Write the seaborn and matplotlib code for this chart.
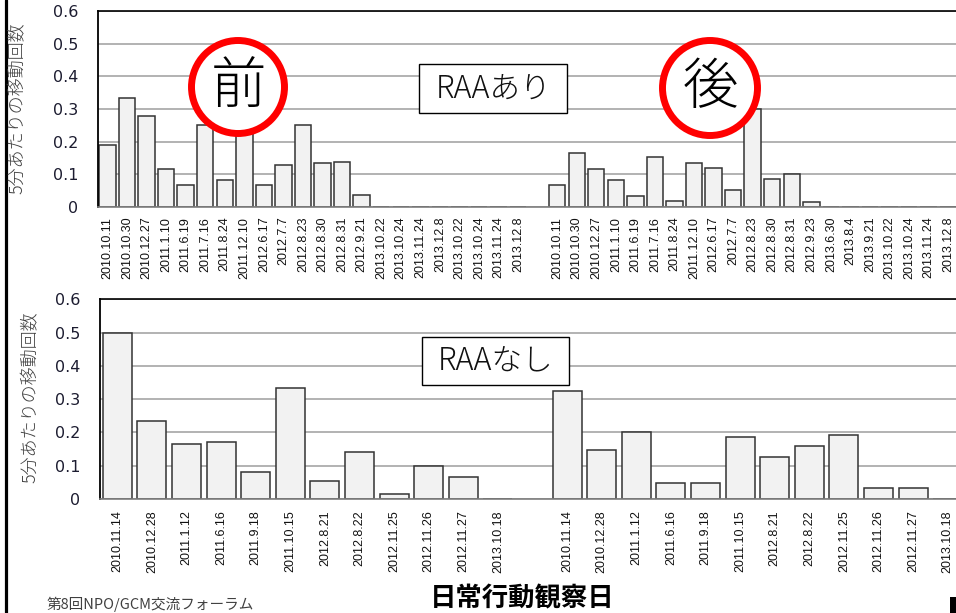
import pandas as pd
import matplotlib
matplotlib.use("Agg")
import matplotlib.pyplot as plt
import seaborn as sns
from matplotlib.patches import Ellipse, Rectangle
from matplotlib.lines import Line2D

# 上段: RAAあり (前 / 後)
ari_dates_pre = ["2010.10.11", "2010.10.30", "2010.12.27", "2011.1.10", "2011.6.19",
                 "2011.7.16", "2011.8.24", "2011.12.10", "2012.6.17", "2012.7.7",
                 "2012.8.23", "2012.8.30", "2012.8.31", "2012.9.21", "2013.10.22",
                 "2013.10.24", "2013.11.24", "2013.12.8", "2013.10.22", "2013.10.24",
                 "2013.11.24", "2013.12.8"]
ari_vals_pre = [0.19, 0.333, 0.28, 0.116, 0.067, 0.25, 0.083, 0.25, 0.067, 0.13,
                0.25, 0.136, 0.139, 0.037, 0, 0, 0, 0, 0, 0, 0, 0]
ari_dates_post = ["2010.10.11", "2010.10.30", "2010.12.27", "2011.1.10", "2011.6.19",
                  "2011.7.16", "2011.8.24", "2011.12.10", "2012.6.17", "2012.7.7",
                  "2012.8.23", "2012.8.30", "2012.8.31", "2012.9.23", "2013.6.30",
                  "2013.8.4", "2013.9.21", "2013.10.22", "2013.10.24", "2013.11.24",
                  "2013.12.8"]
ari_vals_post = [0.067, 0.166, 0.116, 0.083, 0.034, 0.154, 0.018, 0.136, 0.12, 0.052,
                 0.3, 0.086, 0.1, 0.015, 0, 0, 0, 0, 0, 0, 0]

# 下段: RAAなし
nashi_dates = ["2010.11.14", "2010.12.28", "2011.1.12", "2011.6.16", "2011.9.18",
               "2011.10.15", "2012.8.21", "2012.8.22", "2012.11.25", "2012.11.26",
               "2012.11.27", "2013.10.18"]
nashi_vals_pre = [0.5, 0.233, 0.166, 0.172, 0.081, 0.333, 0.054, 0.142, 0.014, 0.1,
                  0.066, 0]
nashi_vals_post = [0.325, 0.148, 0.2, 0.047, 0.047, 0.185, 0.126, 0.16, 0.193, 0.032,
                   0.032, 0]

yticks = [0, 0.1, 0.2, 0.3, 0.4, 0.5, 0.6]
ytick_labels = ["0", "0.1", "0.2", "0.3", "0.4", "0.5", "0.6"]

sns.set_style("white")
plt.rcParams["font.family"] = ["Noto Sans CJK JP", "DejaVu Sans"]

W, H = 956, 613
fig = plt.figure(figsize=(W / 100, H / 100), dpi=100)


def fx(x):
    return x / W


def fy(y):
    return 1 - y / H


def panel(ax, dates_pre, vals_pre, dates_post, vals_post, xpad):
    keys_pre = [f"a{i}" for i in range(len(vals_pre))]
    keys_post = [f"b{i}" for i in range(len(vals_post))]
    order = keys_pre + ["gap"] + keys_post
    df = pd.DataFrame({"key": keys_pre + keys_post, "val": vals_pre + vals_post})
    sns.barplot(data=df, x="key", y="val", order=order, color="#f2f2f2",
                saturation=1, edgecolor="#333333", linewidth=1.1, width=0.84, ax=ax)
    ax.set_xlim(-0.5, len(order) - 0.5)
    ax.set_ylim(0, 0.6)
    ax.set_yticks(yticks)
    ax.set_yticklabels(ytick_labels, fontfamily="DejaVu Sans", fontsize=11.5,
                       color="#1c1c30")
    ax.set_xticks(range(len(order)))
    ax.set_xticklabels(dates_pre + [""] + dates_post, rotation=90, va="top",
                       ha="center", fontsize=9, fontfamily="Liberation Sans",
                       color="#111111")
    ax.tick_params(axis="both", length=0)
    ax.tick_params(axis="y", pad=14)
    ax.tick_params(axis="x", pad=xpad)
    ax.set_xlabel("")
    ax.set_ylabel("")
    ax.yaxis.grid(True, color="#a6a6a6", linewidth=1.2)
    ax.set_axisbelow(True)
    ax.spines["top"].set_color("black")
    ax.spines["top"].set_linewidth(1.2)
    ax.spines["left"].set_color("black")
    ax.spines["left"].set_linewidth(1.3)
    ax.spines["bottom"].set_color("#7f7f7f")
    ax.spines["bottom"].set_linewidth(1.2)
    ax.spines["right"].set_visible(False)


ax1 = fig.add_axes([fx(97.7), fy(207), (958 - 97.7) / W, 196 / H])
panel(ax1, ari_dates_pre, ari_vals_pre, ari_dates_post, ari_vals_post, 7)

ax2 = fig.add_axes([fx(100), fy(499), 865 / W, 199.7 / H])
panel(ax2, nashi_dates, nashi_vals_pre, nashi_dates, nashi_vals_post, 8)

# 縦軸ラベル
fig.text(fx(18), fy(108), "5分あたりの移動回数", rotation=90, ha="center",
         va="center", fontsize=13, fontweight="light", color="#404040")
fig.text(fx(31), fy(397), "5分あたりの移動回数", rotation=90, ha="center",
         va="center", fontsize=13, fontweight="light", color="#404040")

# RAAあり / RAAなし の枠
for (x0, y0, x1, y1, label) in [(419, 64, 567, 113, "RAAあり"),
                                (422, 337, 569, 385, "RAAなし")]:
    fig.add_artist(Rectangle((fx(x0), fy(y1)), (x1 - x0) / W, (y1 - y0) / H,
                             transform=fig.transFigure, fc="white", ec="black",
                             lw=1.0, zorder=2))
    fig.text(fx((x0 + x1) / 2), fy((y0 + y1) / 2), label, ha="center",
             va="center", fontsize=22, fontweight="light", color="#111111",
             zorder=3)

# 前 / 後 の赤丸
for (cx, cy, r, label) in [(238, 87, 46.5, "前"), (710, 88, 47.5, "後")]:
    fig.add_artist(Ellipse((fx(cx), fy(cy)), 2 * r / W, 2 * r / H,
                           transform=fig.transFigure, fc="white", ec="#ff0000",
                           lw=5, zorder=2))
    fig.text(fx(cx), fy(cy), label, ha="center", va="center", fontsize=40,
             fontweight="light", color="black", zorder=3)

fig.text(fx(522), fy(599), "日常行動観察日", ha="center", va="center",
         fontsize=19, fontweight="bold", color="black")
fig.text(fx(47), fy(604), "第8回NPO/GCM交流フォーラム", ha="left", va="center",
         fontsize=10.5, color="#404040")

# 左端の縦線と右下の黒い四角
fig.add_artist(Line2D([fx(5.8), fx(5.8)], [0, 1], transform=fig.transFigure,
                      color="black", lw=2.3))
fig.add_artist(Rectangle((fx(950), 0), 6 / W, 16 / H, transform=fig.transFigure,
                         fc="black", ec="none"))

fig.savefig("out.png", dpi=100)
